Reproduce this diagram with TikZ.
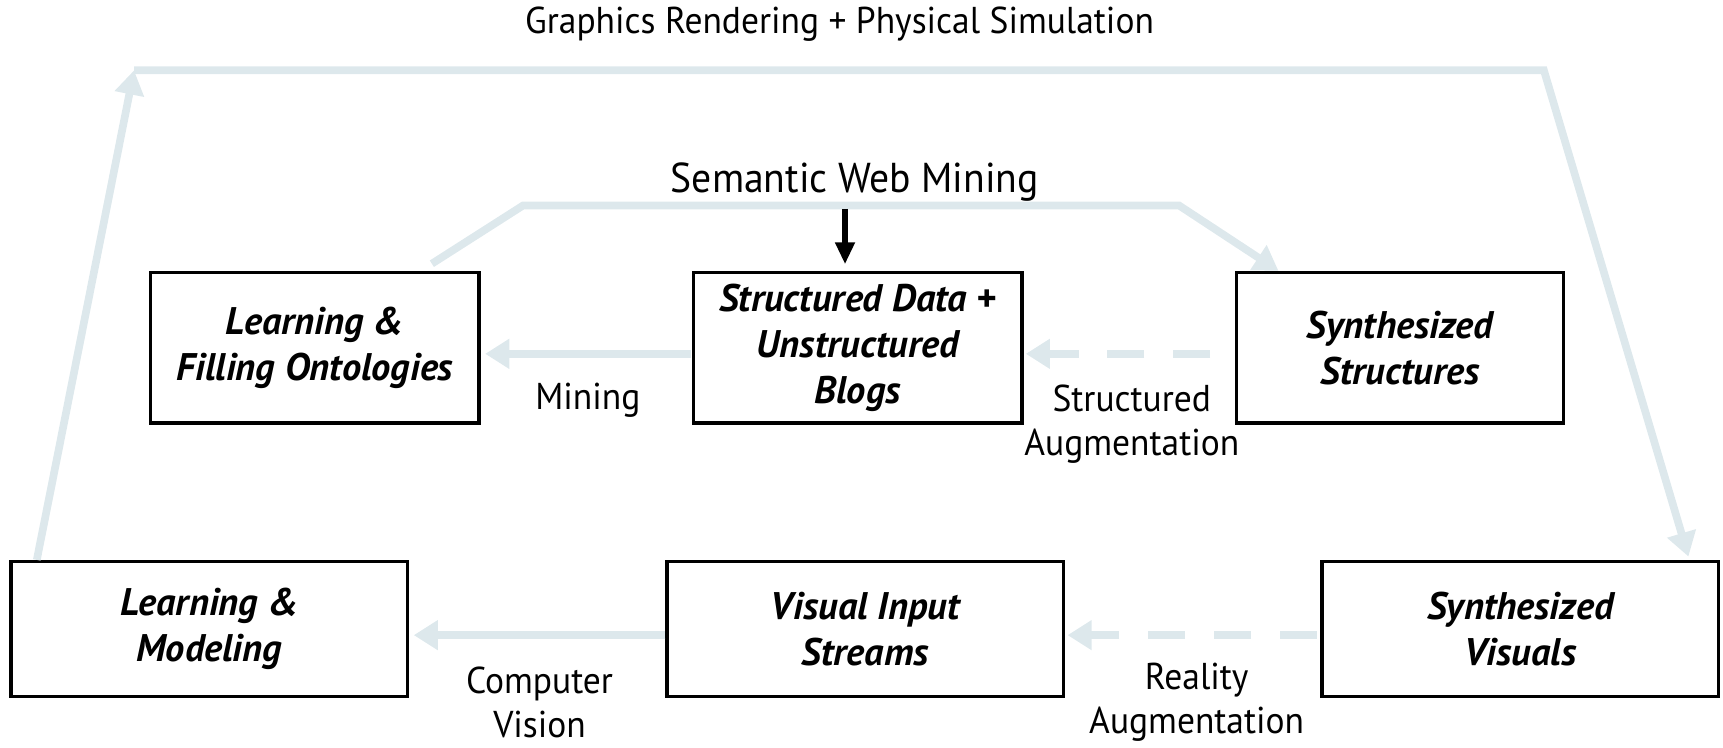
\documentclass[tikz,border=0pt]{standalone}
\usepackage{fontspec}
\setmainfont{PT Sans}
\newfontfamily\lblfont{PT Sans}[FakeStretch=0.95]
\usetikzlibrary{arrows.meta,calc}
\definecolor{flow}{RGB}{221,232,236}
\begin{document}
\begin{tikzpicture}[x=1pt,y=-1pt,
  box/.style={draw=black,line width=3pt,inner sep=0pt,align=center,
    font=\fontsize{35}{41.5}\selectfont\bfseries\itshape},
  lbl/.style={inner sep=0pt,align=center,font=\lblfont\fontsize{34}{40}\selectfont},
  flowline/.style={draw=flow,line width=7pt},
  flowarr/.style={flowline,-{Triangle[width=26pt,length=22pt]}},
  dashflow/.style={flowarr,dash pattern=on 34pt off 26pt}]
\useasboundingbox (0,0) rectangle (1568,680);
% boxes
\node[box,minimum width=299pt,minimum height=137pt] (LFO) at (286.5,316.5) {Learning \&\\Filling Ontologies};
\node[box,minimum width=299pt,minimum height=137pt] (SD) at (780.5,316.5) {Structured Data +\\Unstructured\\Blogs};
\node[box,minimum width=298pt,minimum height=137pt] (SS) at (1274,316.5) {Synthesized\\Structures};
\node[box,minimum width=361pt,minimum height=123pt] (LM) at (190.5,572.5) {Learning \&\\Modeling};
\node[box,minimum width=361pt,minimum height=123pt] (VIS) at (787.5,572.5) {Visual Input\\Streams};
\node[box,minimum width=361pt,minimum height=123pt] (SV) at (1383.5,572.5) {Synthesized\\Visuals};
% labels
\node[lbl] (title) at (764,22) {Graphics Rendering + Physical Simulation};
\node[lbl,font=\lblfont\fontsize{38}{44}\selectfont] (swm) at (778,166) {Semantic Web Mining};
\node[lbl] (mining) at (535,364) {Mining};
\node[lbl] (sa) at (1030,386) {Structured\\Augmentation};
\node[lbl] (cv) at (491,639) {Computer\\Vision};
\node[lbl] (ra) at (1089,639) {Reality\\Augmentation};
% corner coordinates
\coordinate (c1) at (122,64);
\coordinate (c2) at (1405,64);
\coordinate (m0) at (393,240);
\coordinate (m1) at (476,187);
\coordinate (m2) at (1073,187);
% outer loop
\draw[flowarr] ($(LM.north west)+(25,0)$) -- (c1);
\draw[flowarr] (c1) -- (c2) -- ($(SV.north east)+(-29,-3)$);
% middle loop
\draw[flowarr] (m0) -- (m1) -- (m2) -- ($(SS.north west)+(40,0)$);
% black arrow
\draw[line width=5pt,-{Triangle[width=17pt,length=20pt]}] (769,190) -- ($(SD.north)+(-11.5,-6)$);
% horizontal arrows
\draw[flowarr] ($(SD.west)+(-1,5.5)$) -- ($(LFO.east)+(4,5.5)$);
\draw[dashflow] ($(SS.west)+(-22,5.5)$) -- ($(SD.east)+(2,5.5)$);
\draw[flowarr] ($(VIS.west)+(0,5.5)$) -- ($(LM.east)+(4,5.5)$);
\draw[dashflow] ($(SV.west)+(-3,5.5)$) -- ($(VIS.east)+(2,5.5)$);
\end{tikzpicture}
\end{document}
